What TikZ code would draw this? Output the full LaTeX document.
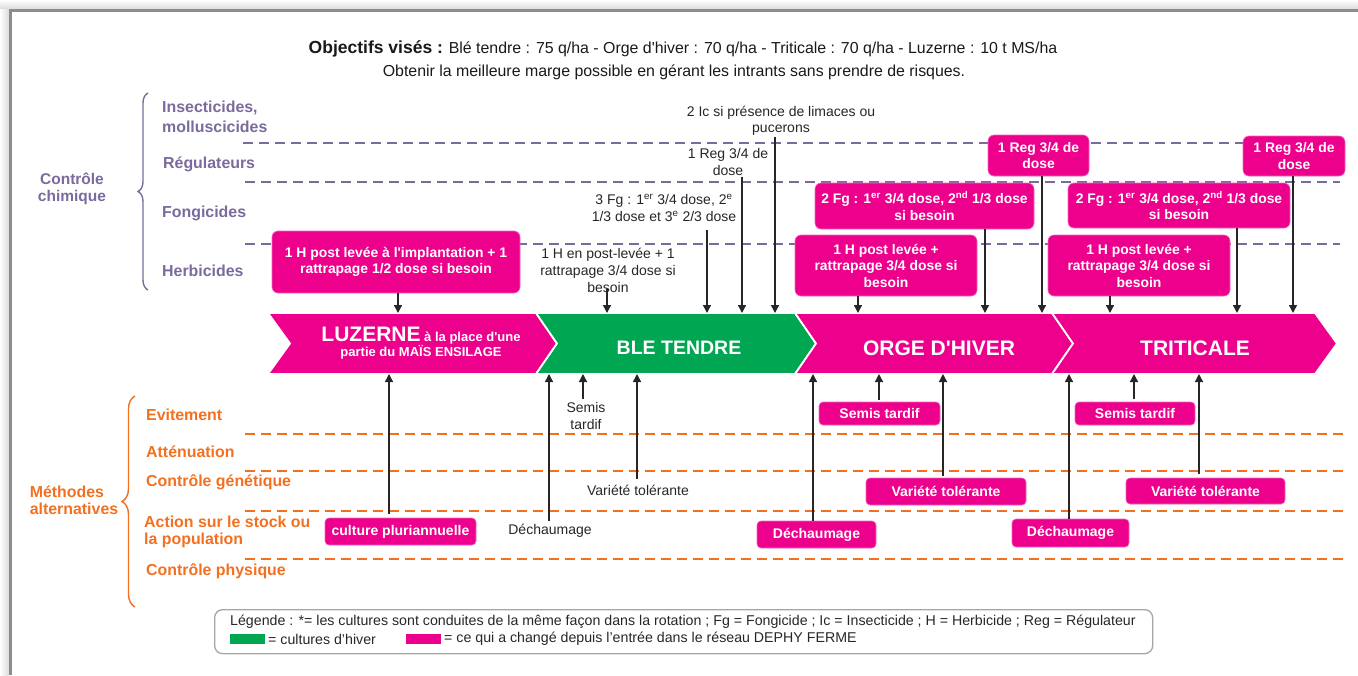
\documentclass[tikz,border=0pt]{standalone}
\usepackage{fontspec}
\setmainfont{Liberation Sans}[Ligatures=TeXOff]
\usetikzlibrary{arrows.meta,decorations.pathreplacing}
\definecolor{mag}{HTML}{EC008C}
\definecolor{grn}{HTML}{00A651}
\definecolor{purp}{HTML}{7A6A9E}
\definecolor{orng}{HTML}{F37021}
\begin{document}
\begin{tikzpicture}[x=1pt,y=-1pt,
  arr/.style={-{Triangle[width=8pt,length=8pt]}, line width=1.3pt, black!85},
  pdash/.style={purp, line width=2.5pt, dash pattern=on 10pt off 6pt},
  odash/.style={orng, line width=2.5pt, dash pattern=on 10pt off 6pt},
  chemlab/.style={font=\bfseries\fontsize{15.9}{20}\selectfont, text=purp, anchor=west, align=left, inner sep=0pt},
  altlab/.style={font=\bfseries\fontsize{15.9}{17}\selectfont, text=orng, anchor=west, align=left, inner sep=0pt},
  pbox/.style={fill=mag, draw=mag!60, line width=0.6pt, rounded corners=6pt, text=white, font=\bfseries\fontsize{13.9}{16.5}\selectfont, align=center, inner sep=0pt},
  sbox/.style={fill=mag, draw=mag!60, line width=0.6pt, rounded corners=4pt, text=white, font=\bfseries\fontsize{14}{16}\selectfont, align=center, inner sep=0pt},
  btxt/.style={font=\fontsize{14}{16.5}\selectfont, align=center, inner sep=0pt, text=black!85},
  chev/.style={draw=white, line width=1.8pt},
  ctxt/.style={text=white, font=\bfseries\fontsize{21}{22}\selectfont, inner sep=0pt},
  legt/.style={anchor=west, inner sep=0pt, font=\fontsize{14.2}{15}\selectfont, text=black!85},
  brc/.style={decorate, line width=1.4pt}
]
\useasboundingbox (0,0) rectangle (1358,675);
% frame with shadow
\shade[top color=white, bottom color=black!14] (0,0) rectangle (1358,9);
\shade[left color=white, right color=black!14] (0,9) rectangle (9,675);
\draw[line width=3pt, black!45] (10,675) -- (10,10) -- (1358,10);

% title
\node[font=\fontsize{15.9}{18}\selectfont, inner sep=0pt, text=black!90] (title1) at (683,49) {{\bfseries\fontsize{17.5}{18}\selectfont Objectifs visés :} Blé tendre : 75 q/ha - Orge d'hiver : 70 q/ha - Triticale : 70 q/ha - Luzerne : 10 t MS/ha};
\node[font=\fontsize{15.9}{18}\selectfont, inner sep=0pt, text=black!90] (title2) at (674,72) {Obtenir la meilleure marge possible en gérant les intrants sans prendre de risques.};

% chemical control labels
\node[chemlab] (insect) at (162,117) {Insecticides,\\molluscicides};
\node[chemlab] (regul) at (163,164) {Régulateurs};
\node[chemlab] (fongi) at (162,213) {Fongicides};
\node[chemlab] (herbi) at (162,271) {Herbicides};
\node[chemlab, anchor=center, align=center, font=\bfseries\fontsize{15.5}{17}\selectfont] (chimique) at (72,189) {Contrôle\\chimique};
\draw[brc, purp, decoration={brace, amplitude=10pt}] (148,290) -- (148,93);

\draw[pdash] (243,143) -- (1340,143);
\draw[pdash] (245,182) -- (1340,182);
\draw[pdash] (245,244) -- (1340,244);

% alternative methods labels
\node[altlab] (evit) at (146,415) {Evitement};
\node[altlab] (atten) at (146,452) {Atténuation};
\node[altlab] (genet) at (146,482) {Contrôle génétique};
\node[altlab] (stock) at (144,532) {Action sur le stock ou\\la population};
\node[altlab] (phys) at (146,571) {Contrôle physique};
\node[altlab, anchor=center, align=left] (methodes) at (74,500) {Méthodes\\alternatives};
\draw[brc, orng, decoration={brace, amplitude=13pt}] (135,607) -- (135,396);

\draw[odash] (245,434) -- (1345,434);
\draw[odash] (245,471) -- (1345,471);
\draw[odash] (245,511) -- (1345,511);
\draw[odash] (245,559) -- (1345,559);

% chevrons band
\fill[mag, chev] (268,313) -- (536,313) -- (557,343.5) -- (536,374) -- (268,374) -- (290,343.5) -- cycle;
\fill[grn, chev] (536,313) -- (795,313) -- (816,343.5) -- (795,374) -- (536,374) -- (557,343.5) -- cycle;
\fill[mag, chev] (795,313) -- (1052,313) -- (1073,343.5) -- (1052,374) -- (795,374) -- (816,343.5) -- cycle;
\fill[mag, chev] (1052,313) -- (1315,313) -- (1337,343.5) -- (1315,374) -- (1052,374) -- (1073,343.5) -- cycle;

\node[ctxt, align=center, font=\bfseries\fontsize{13}{15}\selectfont] (luz) at (421,343) {{\fontsize{21}{21}\selectfont LUZERNE} à la place d'une\\partie du MAÏS ENSILAGE};
\node[ctxt, font=\bfseries\fontsize{19.5}{20}\selectfont] (ble) at (679,348) {BLE TENDRE};
\node[ctxt] (orge) at (939,348) {ORGE D'HIVER};
\node[ctxt] (trit) at (1195,348) {TRITICALE};

% top boxes
\node[pbox, minimum width=248pt, minimum height=62pt] (herbL) at (396,262) {1 H post levée à l'implantation + 1\\rattrapage 1/2 dose si besoin};
\node[pbox, minimum width=182pt, minimum height=61pt] (herbO) at (886,265.5) {1 H post levée +\\rattrapage 3/4 dose si\\besoin};
\node[pbox, minimum width=219pt, minimum height=46pt] (fgO) at (924.5,206) {2 Fg : 1\textsuperscript{er} 3/4 dose, 2\textsuperscript{nd} 1/3 dose\\si besoin};
\node[pbox, minimum width=101pt, minimum height=41pt] (regO) at (1038.5,155.5) {1 Reg 3/4 de\\dose};
\node[pbox, minimum width=182pt, minimum height=61pt] (herbT) at (1139,265.5) {1 H post levée +\\rattrapage 3/4 dose si\\besoin};
\node[pbox, minimum width=222pt, minimum height=45pt] (fgT) at (1179,205.5) {2 Fg : 1\textsuperscript{er} 3/4 dose, 2\textsuperscript{nd} 1/3 dose\\si besoin};
\node[pbox, minimum width=102pt, minimum height=40pt] (regT) at (1294,156) {1 Reg 3/4 de\\dose};

% black texts (ble tendre)
\node[btxt, font=\fontsize{14}{17}\selectfont] (hB) at (608,270) {1 H en post-levée + 1\\rattrapage 3/4 dose si\\besoin};
\node[btxt, font=\fontsize{14}{17}\selectfont] (fgB) at (664,208) {3 Fg : 1\textsuperscript{er} 3/4 dose, 2\textsuperscript{e}\\1/3 dose et 3\textsuperscript{e} 2/3 dose};
\node[btxt] (regB) at (728,162) {1 Reg 3/4 de\\dose};
\node[btxt, font=\fontsize{14}{15.5}\selectfont] (icB) at (781,121) {2 Ic si présence de limaces ou\\pucerons};

% arrow columns (top)
\coordinate (aHerbL) at (398,313);
\coordinate (aHB) at (607,313);
\coordinate (aFgB) at (707,313);
\coordinate (aRegB) at (742,313);
\coordinate (aIcB) at (775,313);
\coordinate (aHerbO) at (858,313);
\coordinate (aFgO) at (985,313);
\coordinate (aRegO) at (1042,313);
\coordinate (aHerbT) at (1110,313);
\coordinate (aFgT) at (1237,313);
\coordinate (aRegT) at (1293,313);

\draw[arr] (herbL.south -| aHerbL) -- (aHerbL);
\draw[arr] (hB.south -| aHB) ++(0,-3) -- (aHB);
\draw[arr] (fgB.south -| aFgB) ++(0,8) -- (aFgB);
\draw[arr] (regB.south -| aRegB) ++(0,1) -- (aRegB);
\draw[arr] (icB.south -| aIcB) ++(0,1) -- (aIcB);
\draw[arr] (herbO.south -| aHerbO) -- (aHerbO);
\draw[arr] (fgO.south -| aFgO) -- (aFgO);
\draw[arr] (regO.south -| aRegO) -- (aRegO);
\draw[arr] (herbT.south -| aHerbT) -- (aHerbT);
\draw[arr] (fgT.south -| aFgT) -- (aFgT);
\draw[arr] (regT.south -| aRegT) -- (aRegT);

% bottom boxes
\node[sbox, minimum width=151pt, minimum height=27pt] (cultP) at (400.5,531.5) {culture pluriannuelle};
\node[sbox, minimum width=119pt, minimum height=27pt] (dechO) at (816.5,534.5) {Déchaumage};
\node[sbox, minimum width=121pt, minimum height=23pt] (semO) at (879.5,413.5) {Semis tardif};
\node[sbox, minimum width=160pt, minimum height=27pt] (varO) at (946,491.5) {Variété tolérante};
\node[sbox, minimum width=117pt, minimum height=28pt] (dechT) at (1070.5,533) {Déchaumage};
\node[sbox, minimum width=120pt, minimum height=23pt] (semT) at (1135,413.5) {Semis tardif};
\node[sbox, minimum width=159pt, minimum height=26pt] (varT) at (1205.5,491) {Variété tolérante};

\node[btxt] (semB) at (586,416) {Semis\\tardif};
\node[btxt] (dechB) at (550,531) {Déchaumage};
\node[btxt] (varB) at (638,490) {Variété tolérante};

% arrow columns (bottom)
\coordinate (bCult) at (389,374);
\coordinate (bDechB) at (549,374);
\coordinate (bSemB) at (583,374);
\coordinate (bVarB) at (637,374);
\coordinate (bDechO) at (813,374);
\coordinate (bSemO) at (879,374);
\coordinate (bVarO) at (943,374);
\coordinate (bDechT) at (1069,374);
\coordinate (bSemT) at (1134,374);
\coordinate (bVarT) at (1199,374);

\draw[arr] (cultP.north -| bCult) ++(0,-4) -- (bCult);
\draw[arr] (dechB.north -| bDechB) ++(0,-3) -- (bDechB);
\draw[arr] (semB.north -| bSemB) ++(0,-3) -- (bSemB);
\draw[arr] (varB.north -| bVarB) ++(0,-6) -- (bVarB);
\draw[arr] (dechO.north -| bDechO) -- (bDechO);
\draw[arr] (semO.north -| bSemO) ++(0,-2) -- (bSemO);
\draw[arr] (varO.north -| bVarO) ++(0,-2) -- (bVarO);
\draw[arr] (dechT.north -| bDechT) -- (bDechT);
\draw[arr] (semT.north -| bSemT) ++(0,-3) -- (bSemT);
\draw[arr] (varT.north -| bVarT) ++(0,-4) -- (bVarT);

% legend
\node[draw=black!35, line width=1.3pt, rounded corners=8pt, minimum width=938pt, minimum height=44pt, anchor=north west, inner sep=0pt] (leg) at (214,609) {};
\node[legt] (leg1) at (230,622) {Légende : *= les cultures sont conduites de la même façon dans la rotation ; Fg = Fongicide ; Ic = Insecticide ; H = Herbicide ; Reg = Régulateur};
\node[fill=grn, minimum width=35pt, minimum height=10pt, inner sep=0pt, anchor=west] (swG) at (230,639) {};
\node[legt] (leg2) at (268,639) {= cultures d’hiver};
\node[fill=mag, minimum width=35pt, minimum height=10pt, inner sep=0pt, anchor=west] (swM) at (406,639) {};
\node[legt] (leg3) at (444,639) {= ce qui a changé depuis l’entrée dans le réseau DEPHY FERME};
\end{tikzpicture}
\end{document}
